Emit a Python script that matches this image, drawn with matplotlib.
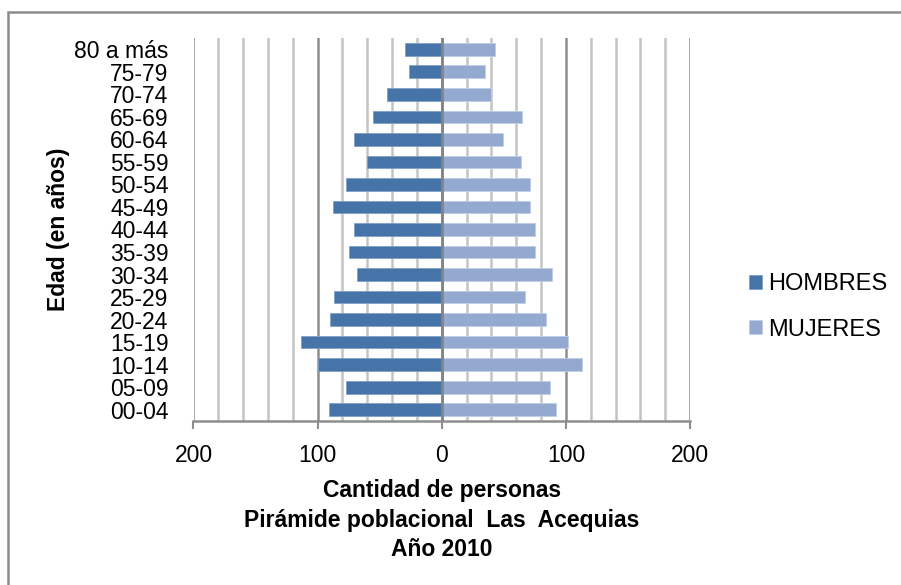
import matplotlib
matplotlib.use("Agg")
import matplotlib.pyplot as plt
from matplotlib.patches import Rectangle
from matplotlib.ticker import FuncFormatter, MultipleLocator

plt.rcParams['font.family'] = ['Liberation Sans', 'DejaVu Sans']

# Age groups, bottom to top
age_groups = ["00-04", "05-09", "10-14", "15-19", "20-24", "25-29", "30-34",
              "35-39", "40-44", "45-49", "50-54", "55-59", "60-64", "65-69",
              "70-74", "75-79", "80 a más"]
hombres = [91, 77, 100, 113, 90, 87, 68, 75, 71, 88, 77, 60, 71, 55, 44, 26, 30]
mujeres = [92, 87, 113, 102, 84, 67, 89, 75, 75, 71, 71, 64, 49, 65, 40, 35, 43]
x_ticks = [-200, -100, 0, 100, 200]

color_h = "#4673A8"
color_m = "#94A9D0"

W, H = 901, 585
fig = plt.figure(figsize=(W / 100, H / 100), dpi=100)
ax = fig.add_axes([193.5 / W, 1 - 421 / H, (690 - 193.5) / W, (421 - 38) / H])

ypos = list(range(len(age_groups)))
ax.barh(ypos, [-v for v in hombres], height=0.56, color=color_h,
        edgecolor="#7FA0C8", linewidth=0.6, label="HOMBRES", zorder=3)
ax.barh(ypos, mujeres, height=0.56, color=color_m,
        edgecolor="#BFCDE6", linewidth=0.6, label="MUJERES", zorder=3)

ax.set_xlim(-200, 200)
ax.set_ylim(-0.5, len(age_groups) - 0.5)

# vertical grid: light minor lines every 20, darker major lines every 100
ax.xaxis.set_major_locator(MultipleLocator(100))
ax.xaxis.set_minor_locator(MultipleLocator(20))
ax.grid(axis="x", which="minor", color="#C4C4C4", linewidth=1.8, zorder=1)
ax.grid(axis="x", which="major", color="#8E8E8E", linewidth=1.8, zorder=1)
ax.axvline(0, color="#858585", linewidth=2.0, zorder=4)

ax.set_xticks(x_ticks)
ax.xaxis.set_major_formatter(FuncFormatter(lambda v, p: f"{abs(int(v))}"))
ax.tick_params(axis="x", which="major", length=5.5, width=1.5, color="#8E8E8E",
               labelsize=16.5, pad=11)
ax.tick_params(axis="x", which="minor", length=0)

ax.set_yticks(ypos)
ax.set_yticklabels(age_groups)
ax.tick_params(axis="y", length=0, labelsize=16.5, pad=18)

for side in ["top", "right", "left"]:
    ax.spines[side].set_visible(False)
ax.spines["bottom"].set_color("#8E8E8E")
ax.spines["bottom"].set_linewidth(1.8)

ax.set_ylabel("Edad (en años)", fontsize=16.5, fontweight="bold", labelpad=3)
ax.set_xlabel("Cantidad de personas\nPirámide poblacional  Las  Acequias\nAño 2010",
              fontsize=16.5, fontweight="bold", linespacing=1.36, labelpad=9)

leg = ax.legend(loc="center left", bbox_to_anchor=(1.119, 0.298), frameon=False,
                fontsize=17, handlelength=0.55, handleheight=0.55,
                handletextpad=0.27, labelspacing=1.0, borderaxespad=0,
                borderpad=0)

# outer chart border
fig.patches.append(Rectangle((8 / W, -0.1), 1.2, 1 - 11.5 / H + 0.1,
                             transform=fig.transFigure, fill=False,
                             edgecolor="#8C8C8C", linewidth=1.8))

fig.savefig("out.png", dpi=100)
